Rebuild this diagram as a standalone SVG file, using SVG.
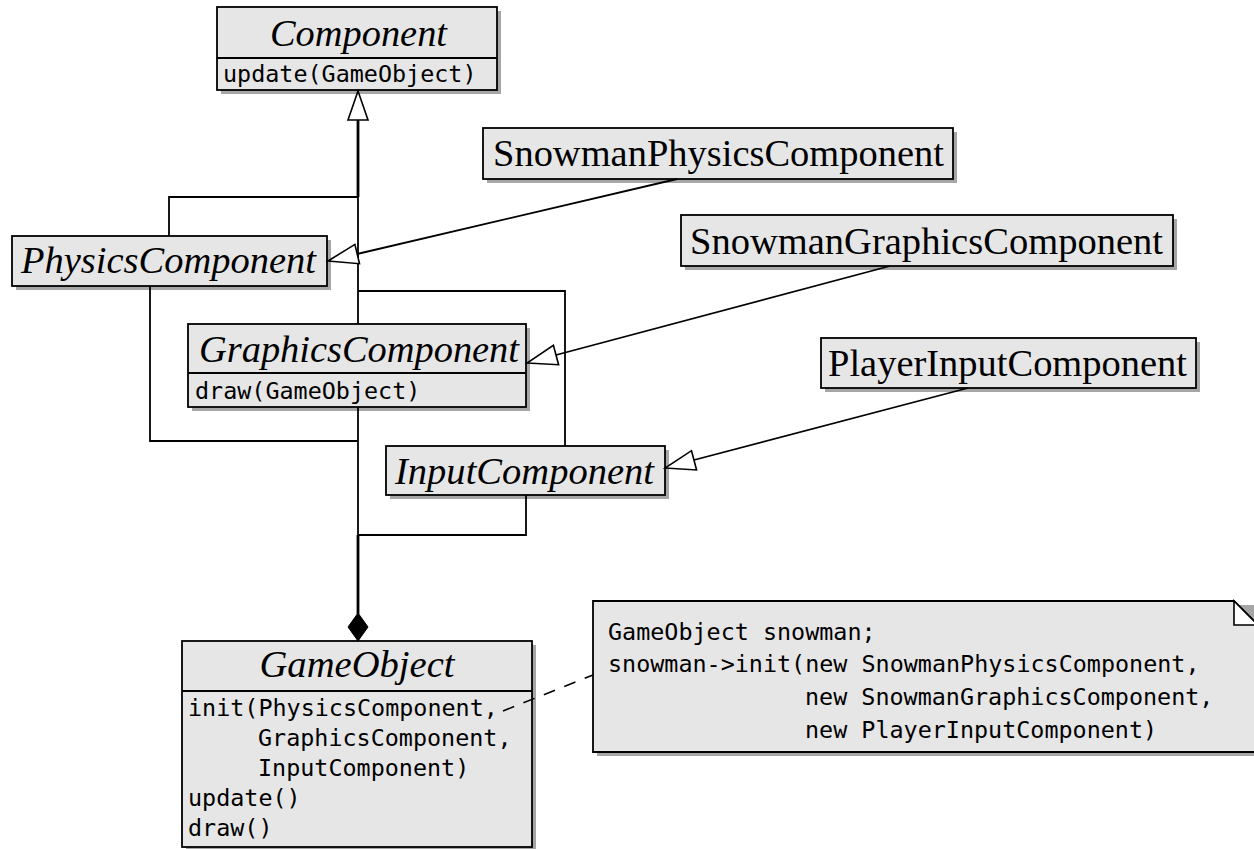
<svg xmlns="http://www.w3.org/2000/svg" width="1254" height="849" viewBox="0 0 1254 849">
<style>
.box{fill:#e6e6e6;stroke:#000;stroke-width:1.8}
.sh{fill:#a6a6a6}
.div{stroke:#000;stroke-width:1.8}
.ser{font-family:"Liberation Serif","Times New Roman",serif;font-size:37px;fill:#000}
.it{font-style:italic}
.mono{font-family:"DejaVu Sans Mono","Liberation Mono",monospace;font-size:23.4px;fill:#000}
.ln{fill:none;stroke:#000;stroke-width:1.8}
.tr{fill:none;stroke:#000;stroke-width:2.8}
.hol{fill:#fff;stroke:#000;stroke-width:1.6;stroke-linejoin:miter}
.dash{fill:none;stroke:#000;stroke-width:1.6;stroke-dasharray:12 10}
</style>
<rect width="1254" height="849" fill="#fff"/>
<g id="Component">
  <rect class="sh" x="221" y="11" width="280" height="83"/>
  <rect class="box" x="217" y="7" width="280" height="83"/>
  <line class="div" x1="217" y1="58" x2="497" y2="58"/>
  <text class="ser it" x="358.5" y="46" text-anchor="middle" textLength="177" lengthAdjust="spacingAndGlyphs">Component</text>
  <text class="mono" x="223" y="82">update(GameObject)</text>
</g>
<g id="SnowmanPhysicsComponent">
  <rect class="sh" x="487" y="132" width="470" height="51"/>
  <rect class="box" x="483" y="128" width="470" height="51"/>
  <text class="ser" x="493" y="166" textLength="451" lengthAdjust="spacingAndGlyphs">SnowmanPhysicsComponent</text>
</g>
<g id="PhysicsComponent">
  <rect class="sh" x="16" y="240" width="315" height="50"/>
  <rect class="box" x="12" y="236" width="315" height="50"/>
  <text class="ser it" x="21" y="273" textLength="295" lengthAdjust="spacingAndGlyphs">PhysicsComponent</text>
</g>
<g id="SnowmanGraphicsComponent">
  <rect class="sh" x="685" y="219" width="492" height="51"/>
  <rect class="box" x="681" y="215" width="492" height="51"/>
  <text class="ser" x="690" y="254" textLength="473" lengthAdjust="spacingAndGlyphs">SnowmanGraphicsComponent</text>
</g>
<g id="GraphicsComponent">
  <rect class="sh" x="192" y="328" width="338" height="83"/>
  <rect class="box" x="188" y="324" width="338" height="83"/>
  <line class="div" x1="188" y1="373" x2="526" y2="373"/>
  <text class="ser it" x="199" y="362" textLength="320" lengthAdjust="spacingAndGlyphs">GraphicsComponent</text>
  <text class="mono" x="195" y="399">draw(GameObject)</text>
</g>
<g id="PlayerInputComponent">
  <rect class="sh" x="825" y="342" width="375" height="50"/>
  <rect class="box" x="821" y="338" width="375" height="50"/>
  <text class="ser" x="828" y="376" textLength="359" lengthAdjust="spacingAndGlyphs">PlayerInputComponent</text>
</g>
<g id="InputComponent">
  <rect class="sh" x="390" y="450" width="279" height="49"/>
  <rect class="box" x="386" y="446" width="279" height="49"/>
  <text class="ser it" x="395" y="484" textLength="259" lengthAdjust="spacingAndGlyphs">InputComponent</text>
</g>
<g id="GameObject">
  <rect class="sh" x="186" y="645" width="350" height="206"/>
  <rect class="box" x="182" y="641" width="350" height="206"/>
  <line class="div" x1="182" y1="691" x2="532" y2="691"/>
  <text class="ser it" x="357" y="677" text-anchor="middle" textLength="195" lengthAdjust="spacingAndGlyphs">GameObject</text>
  <text class="mono" x="188" y="716">init(PhysicsComponent,</text>
  <text class="mono" x="258" y="746">GraphicsComponent,</text>
  <text class="mono" x="258" y="776">InputComponent)</text>
  <text class="mono" x="188" y="806">update()</text>
  <text class="mono" x="188" y="836">draw()</text>
</g>
<g id="note">
  <path class="sh" d="M597,605 H1260 V756 H597 Z"/>
  <path class="box" d="M593,601 H1234 L1258,625 V752 H593 Z"/>
  <path d="M1234,601 V625 H1258 Z" fill="#fff" stroke="#000" stroke-width="1.6"/>
  <text class="mono" x="608" y="640">GameObject snowman;</text>
  <text class="mono" x="608" y="672">snowman-&gt;init(new SnowmanPhysicsComponent,</text>
  <text class="mono" x="805" y="705">new SnowmanGraphicsComponent,</text>
  <text class="mono" x="805" y="738">new PlayerInputComponent)</text>
</g>
<g id="connectors">
  <path class="tr" d="M358,120 V197"/>
  <path class="ln" d="M358,197 V324"/>
  <path class="ln" d="M169,236 V197 H358"/>
  <path class="ln" d="M565,446 V291 H358"/>
  <polygon class="hol" points="358,91 348,120 368,120"/>
  <path class="ln" d="M677,179 L357,254"/>
  <polygon class="hol" points="328,261 359.5,263.7 354.9,244.4"/>
  <path class="ln" d="M890,266 L556,355"/>
  <polygon class="hol" points="527,363 558.6,364.7 553.4,345.3"/>
  <path class="ln" d="M968,388 L694,460"/>
  <polygon class="hol" points="665,468 696.6,470 691.5,450.7"/>
  <path class="ln" d="M150,286 V441 H358"/>
  <path class="ln" d="M358,407 V535"/>
  <path class="ln" d="M526,495 V535 H358"/>
  <path class="tr" d="M358,535 V614"/>
  <polygon points="358,613 348,627 358,641 368,627" fill="#000" stroke="#000" stroke-width="1"/>
  <path class="dash" d="M503,711 L593,675"/>
</g>
</svg>
